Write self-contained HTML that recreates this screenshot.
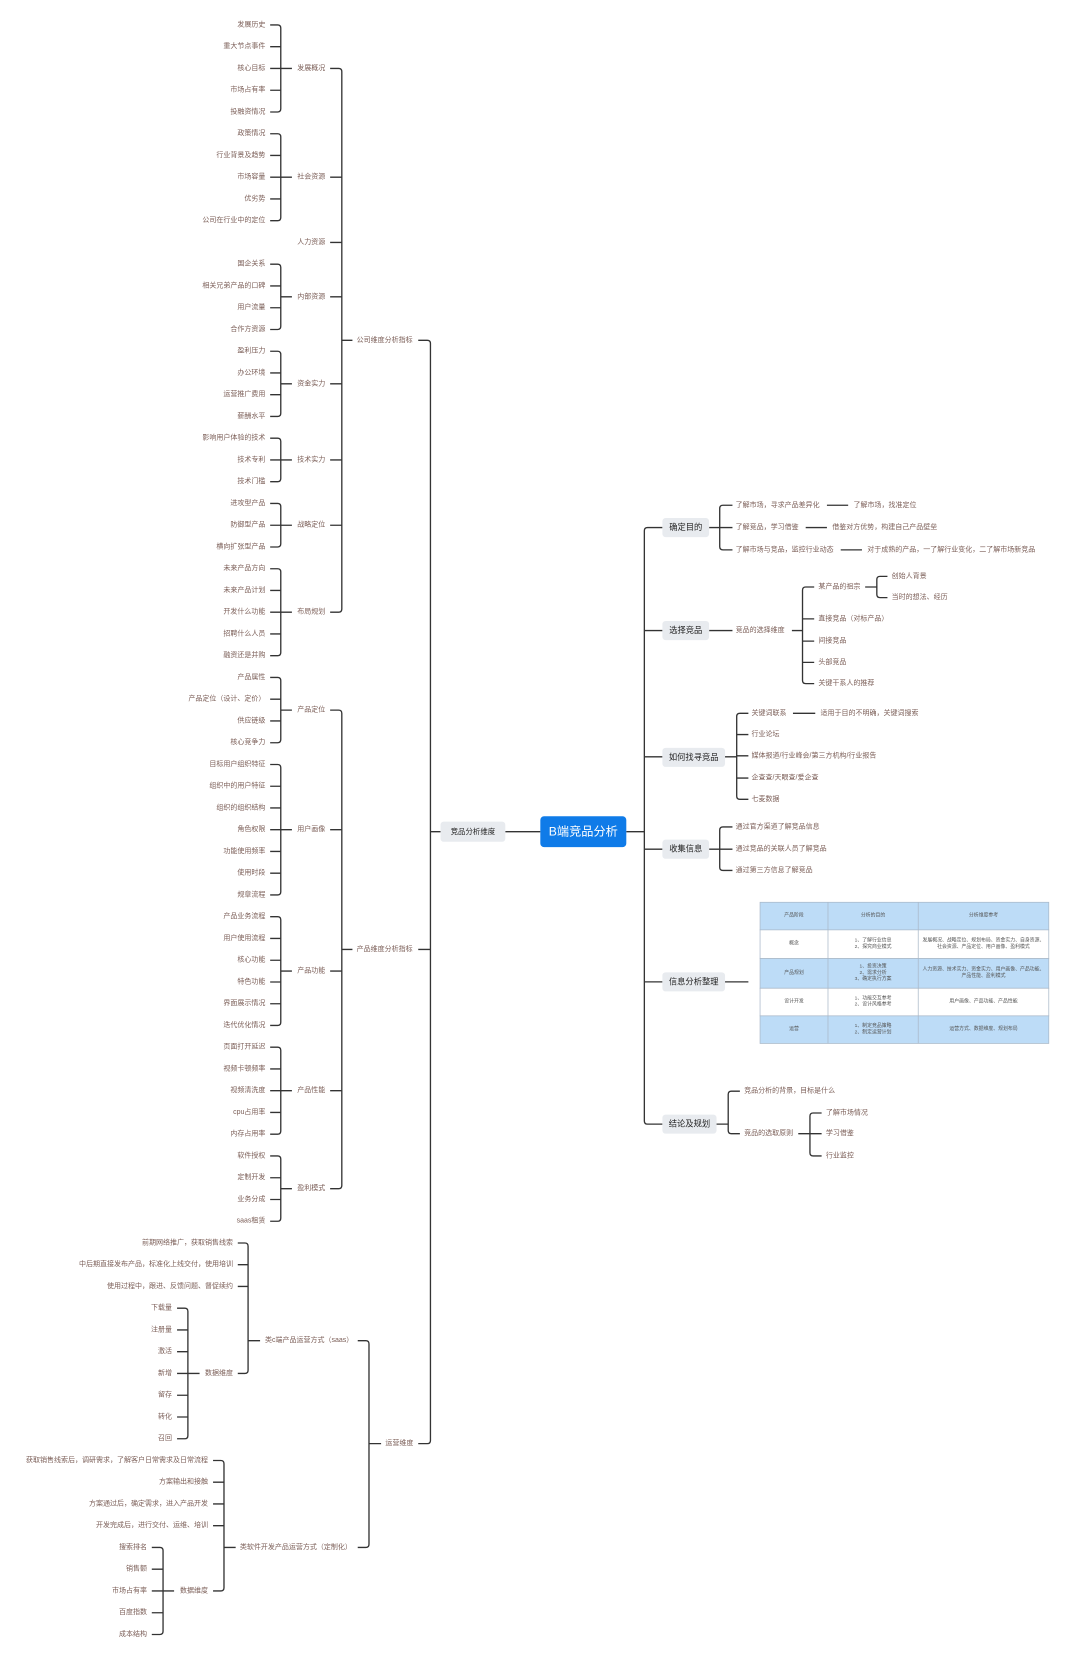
<!DOCTYPE html>
<html><head><meta charset="utf-8"><style>
html,body{margin:0;padding:0;background:#fff;}
svg{display:block;}
text{font-family:"Liberation Sans","Noto Sans CJK SC",sans-serif;dominant-baseline:central;}
.l{font-size:6.6px;fill:#7b5e57;text-anchor:end;}
.r{font-size:6.6px;fill:#7b5e57;text-anchor:start;}
.b{font-size:7.8px;fill:#222;text-anchor:middle;}
.t{font-size:4.6px;fill:#555;text-anchor:middle;}
.ln{fill:none;stroke:#333;stroke-width:1.25;}
.box{fill:#e8ebef;}
</style></head><body>
<svg width="1080" height="1664" viewBox="0 0 1017.4 1567.6" preserveAspectRatio="none" xmlns="http://www.w3.org/2000/svg">
<g class="ln">
<!-- company leaf brackets -->
<path d="M254.5 23.5H261.5Q264.5 23.5 264.5 26.5V102.5Q264.5 105.5 261.5 105.5H254.5M254.5 44H264.5M254.5 85H264.5M254.5 64.5H275"/>
<path d="M254.5 126H261.5Q264.5 126 264.5 129V204.9Q264.5 207.9 261.5 207.9H254.5M254.5 146.4H264.5M254.5 187.4H264.5M254.5 166.9H275"/>
<path d="M254.5 248.9H261.5Q264.5 248.9 264.5 251.9V307.4Q264.5 310.4 261.5 310.4H254.5M254.5 269.4H264.5M254.5 289.9H264.5M264.5 279.6H275"/>
<path d="M254.5 330.9H261.5Q264.5 330.9 264.5 333.9V389.3Q264.5 392.3 261.5 392.3H254.5M254.5 351.3H264.5M254.5 371.8H264.5M264.5 361.6H275"/>
<path d="M254.5 412.8H261.5Q264.5 412.8 264.5 415.8V450.8Q264.5 453.8 261.5 453.8H254.5M254.5 433.3H275"/>
<path d="M254.5 474.3H261.5Q264.5 474.3 264.5 477.3V512.3Q264.5 515.3 261.5 515.3H254.5M254.5 494.8H275"/>
<path d="M254.5 535.8H261.5Q264.5 535.8 264.5 538.8V614.7Q264.5 617.7 261.5 617.7H254.5M254.5 556.2H264.5M254.5 597.2H264.5M254.5 576.7H275"/>
<!-- product leaf brackets -->
<path d="M254.5 638.2H261.5Q264.5 638.2 264.5 641.2V696.7Q264.5 699.7 261.5 699.7H254.5M254.5 658.7H264.5M254.5 679.2H264.5M264.5 669H275"/>
<path d="M254.5 720.2H261.5Q264.5 720.2 264.5 723.2V840.1Q264.5 843.1 261.5 843.1H254.5M254.5 740.7H264.5M254.5 761.1H264.5M254.5 802.1H264.5M254.5 822.6H264.5M254.5 781.6H275"/>
<path d="M254.5 863.6H261.5Q264.5 863.6 264.5 866.6V963Q264.5 966 261.5 966H254.5M254.5 884.1H264.5M254.5 904.6H264.5M254.5 925.1H264.5M254.5 945.6H264.5M264.5 914.8H275"/>
<path d="M254.5 986.5H261.5Q264.5 986.5 264.5 989.5V1065.5Q264.5 1068.5 261.5 1068.5H254.5M254.5 1007H264.5M254.5 1048H264.5M254.5 1027.5H275"/>
<path d="M254.5 1089H261.5Q264.5 1089 264.5 1092V1147.5Q264.5 1150.5 261.5 1150.5H254.5M254.5 1109.5H264.5M254.5 1130H264.5M264.5 1119.8H275"/>
<!-- parent brackets -->
<path d="M311 64.5H319Q322 64.5 322 67.5V573.7Q322 576.7 319 576.7H311M311 166.9H322M311 228.4H322M311 279.6H322M311 361.6H322M311 433.3H322M311 494.8H322M322 320.6H332"/>
<path d="M311 669H319Q322 669 322 672V1116.8Q322 1119.8 319 1119.8H311M311 781.6H322M311 914.8H322M311 1027.5H322M322 894.4H332"/>
<!-- ops -->
<path d="M166.8 1232.4H174Q177 1232.4 177 1235.4V1352.4Q177 1355.4 174 1355.4H166.8M166.8 1252.9H177M166.8 1273.4H177M166.8 1314.4H177M166.8 1334.9H177M166.8 1293.9H188"/>
<path d="M224 1171H230.7Q233.7 1171 233.7 1174V1290.9Q233.7 1293.9 230.7 1293.9H224M224 1191.4H233.7M224 1211.9H233.7M233.7 1263H245"/>
<path d="M143 1457.8H150.6Q153.6 1457.8 153.6 1460.8V1536.8Q153.6 1539.8 150.6 1539.8H143M143 1478.3H153.6M143 1519.3H153.6M143 1498.8H164"/>
<path d="M200.7 1375.9H208Q211 1375.9 211 1378.9V1495.8Q211 1498.8 208 1498.8H200.7M200.7 1396.3H211M200.7 1416.8H211M200.7 1437.3H211M211 1457.8H222"/>
<path d="M337 1263H344.6Q347.6 1263 347.6 1266V1454.8Q347.6 1457.8 344.6 1457.8H337M347.6 1360H359"/>
<!-- main left -->
<path d="M394 320.6H402.5Q405.5 320.6 405.5 323.6V1357Q405.5 1360 402.5 1360H394M394 894.4H405.5M405.5 783.5H415M476 783.5H509"/>
<!-- main right -->
<path d="M624 497H610Q607 497 607 500V1056Q607 1059 610 1059H624M607 594H624M607 713H624M607 800H624M607 925H624M590 783.5H607"/>
<path d="M668 497H678M690 476H681Q678 476 678 479V515Q678 518 681 518H690M678 497H690M779 476H799M759 497H779M792 518H812"/>
<path d="M668 594H690M746 594H756M767 553H759Q756 553 756 556V641Q756 644 759 644H767M756 583H767M756 604H767M756 624H767M815 553H826M836 543H829Q826 543 826 546V560Q826 563 829 563H836"/>
<path d="M683 713H694M705 672H697Q694 672 694 675V750Q694 753 697 753H705M694 692H705M694 712H705M694 733H705M747 672H768"/>
<path d="M668 800H678M690 779H681Q678 779 678 782V817Q678 820 681 820H690M678 800H690"/>
<path d="M683 925H705"/>
<path d="M675 1059H686M697 1028H689Q686 1028 686 1031V1065Q686 1068 689 1068H697M752 1068H763M774 1048.5H766Q763 1048.5 763 1051.5V1086Q763 1089 766 1089H774M763 1068H774"/>
</g>

<!-- company leaves -->
<text class="l" x="250" y="23.5">发展历史</text>
<text class="l" x="250" y="44">重大节点事件</text>
<text class="l" x="250" y="64.5">核心目标</text>
<text class="l" x="250" y="85">市场占有率</text>
<text class="l" x="250" y="105.5">投融资情况</text>
<text class="l" x="250" y="126">政策情况</text>
<text class="l" x="250" y="146.4">行业背景及趋势</text>
<text class="l" x="250" y="166.9">市场容量</text>
<text class="l" x="250" y="187.4">优劣势</text>
<text class="l" x="250" y="207.9">公司在行业中的定位</text>
<text class="l" x="250" y="248.9">国企关系</text>
<text class="l" x="250" y="269.4">相关兄弟产品的口碑</text>
<text class="l" x="250" y="289.9">用户流量</text>
<text class="l" x="250" y="310.4">合作方资源</text>
<text class="l" x="250" y="330.9">盈利压力</text>
<text class="l" x="250" y="351.3">办公环境</text>
<text class="l" x="250" y="371.8">运营推广费用</text>
<text class="l" x="250" y="392.3">薪酬水平</text>
<text class="l" x="250" y="412.8">影响用户体验的技术</text>
<text class="l" x="250" y="433.3">技术专利</text>
<text class="l" x="250" y="453.8">技术门槛</text>
<text class="l" x="250" y="474.3">进攻型产品</text>
<text class="l" x="250" y="494.8">防御型产品</text>
<text class="l" x="250" y="515.3">横向扩张型产品</text>
<text class="l" x="250" y="535.8">未来产品方向</text>
<text class="l" x="250" y="556.2">未来产品计划</text>
<text class="l" x="250" y="576.7">开发什么功能</text>
<text class="l" x="250" y="597.2">招聘什么人员</text>
<text class="l" x="250" y="617.7">融资还是并购</text>
<!-- product leaves -->
<text class="l" x="250" y="638.2">产品属性</text>
<text class="l" x="250" y="658.7">产品定位（设计、定价）</text>
<text class="l" x="250" y="679.2">供应链级</text>
<text class="l" x="250" y="699.7">核心竞争力</text>
<text class="l" x="250" y="720.2">目标用户组织特征</text>
<text class="l" x="250" y="740.7">组织中的用户特征</text>
<text class="l" x="250" y="761.1">组织的组织结构</text>
<text class="l" x="250" y="781.6">角色权限</text>
<text class="l" x="250" y="802.1">功能使用频率</text>
<text class="l" x="250" y="822.6">使用时段</text>
<text class="l" x="250" y="843.1">规章流程</text>
<text class="l" x="250" y="863.6">产品业务流程</text>
<text class="l" x="250" y="884.1">用户使用流程</text>
<text class="l" x="250" y="904.6">核心功能</text>
<text class="l" x="250" y="925.1">特色功能</text>
<text class="l" x="250" y="945.6">界面展示情况</text>
<text class="l" x="250" y="966">迭代优化情况</text>
<text class="l" x="250" y="986.5">页面打开延迟</text>
<text class="l" x="250" y="1007">视频卡顿频率</text>
<text class="l" x="250" y="1027.5">视频清洗度</text>
<text class="l" x="250" y="1048">cpu占用率</text>
<text class="l" x="250" y="1068.5">内存占用率</text>
<text class="l" x="250" y="1089">软件授权</text>
<text class="l" x="250" y="1109.5">定制开发</text>
<text class="l" x="250" y="1130">业务分成</text>
<text class="l" x="250" y="1150.5">saas租赁</text>
<!-- level 2 labels -->
<text class="r" x="280" y="64.5">发展概况</text>
<text class="r" x="280" y="166.9">社会资源</text>
<text class="r" x="280" y="228.4">人力资源</text>
<text class="r" x="280" y="279.6">内部资源</text>
<text class="r" x="280" y="361.6">资金实力</text>
<text class="r" x="280" y="433.3">技术实力</text>
<text class="r" x="280" y="494.8">战略定位</text>
<text class="r" x="280" y="576.7">布局规划</text>
<text class="r" x="280" y="669">产品定位</text>
<text class="r" x="280" y="781.6">用户画像</text>
<text class="r" x="280" y="914.8">产品功能</text>
<text class="r" x="280" y="1027.5">产品性能</text>
<text class="r" x="280" y="1119.8">盈利模式</text>
<text class="r" x="336" y="320.6">公司维度分析指标</text>
<text class="r" x="336" y="894.4">产品维度分析指标</text>
<text class="r" x="363" y="1360">运营维度</text>
<!-- ops texts -->
<text class="l" x="219.5" y="1171">前期网络推广，获取销售线索</text>
<text class="l" x="219.5" y="1191.4">中后期直接发布产品，标准化上线交付，使用培训</text>
<text class="l" x="219.5" y="1211.9">使用过程中，跟进、反馈问题、督促续约</text>
<text class="l" x="219.5" y="1293.9">数据维度</text>
<text class="l" x="162" y="1232.4">下载量</text>
<text class="l" x="162" y="1252.9">注册量</text>
<text class="l" x="162" y="1273.4">激活</text>
<text class="l" x="162" y="1293.9">新增</text>
<text class="l" x="162" y="1314.4">留存</text>
<text class="l" x="162" y="1334.9">转化</text>
<text class="l" x="162" y="1355.4">召回</text>
<text class="r" x="249.6" y="1263">类c端产品运营方式（saas）</text>
<text class="l" x="196" y="1375.9">获取销售线索后，调研需求，了解客户日常需求及日常流程</text>
<text class="l" x="196" y="1396.3">方案输出和接触</text>
<text class="l" x="196" y="1416.8">方案通过后，确定需求，进入产品开发</text>
<text class="l" x="196" y="1437.3">开发完成后，进行交付、运维、培训</text>
<text class="l" x="196" y="1498.8">数据维度</text>
<text class="l" x="138.5" y="1457.8">搜索排名</text>
<text class="l" x="138.5" y="1478.3">销售额</text>
<text class="l" x="138.5" y="1498.8">市场占有率</text>
<text class="l" x="138.5" y="1519.3">百度指数</text>
<text class="l" x="138.5" y="1539.8">成本结构</text>
<text class="r" x="226" y="1457.8">类软件开发产品运营方式（定制化）</text>

<!-- center -->
<rect class="box" x="415" y="774" width="61" height="19" rx="3"/>
<text class="b" x="445.5" y="783.5" style="font-size:7px">竞品分析维度</text>
<rect x="509" y="769" width="81" height="29" rx="3.5" fill="#0f7be8"/>
<text x="549.5" y="783.5" style="font-size:11.5px;fill:#fff;text-anchor:middle">B端竞品分析</text>

<!-- right side -->
<rect class="box" x="624" y="488" width="44" height="18" rx="3"/><text class="b" x="646" y="497">确定目的</text>
<rect class="box" x="624" y="585" width="44" height="18" rx="3"/><text class="b" x="646" y="594">选择竞品</text>
<rect class="box" x="624" y="704.5" width="59" height="18" rx="3"/><text class="b" x="653.5" y="713.5">如何找寻竞品</text>
<rect class="box" x="624" y="791" width="44" height="18" rx="3"/><text class="b" x="646" y="800">收集信息</text>
<rect class="box" x="624" y="916" width="59" height="18" rx="3"/><text class="b" x="653.5" y="925">信息分析整理</text>
<rect class="box" x="624" y="1050" width="51" height="18" rx="3"/><text class="b" x="649.5" y="1059">结论及规划</text>

<text class="r" x="693" y="476">了解市场，寻求产品差异化</text>
<text class="r" x="693" y="497">了解竞品，学习借鉴</text>
<text class="r" x="693" y="518">了解市场与竞品，监控行业动态</text>
<text class="r" x="804" y="476">了解市场，找准定位</text>
<text class="r" x="784" y="497">借鉴对方优势，构建自己产品壁垒</text>
<text class="r" x="817" y="518">对于成熟的产品，一了解行业变化，二了解市场新竞品</text>
<text class="r" x="693" y="594">竞品的选择维度</text>
<text class="r" x="771" y="553">某产品的祖宗</text>
<text class="r" x="771" y="583">直接竞品（对标产品）</text>
<text class="r" x="771" y="604">间接竞品</text>
<text class="r" x="771" y="624">头部竞品</text>
<text class="r" x="771" y="644">关键干系人的推荐</text>
<text class="r" x="840" y="543">创始人背景</text>
<text class="r" x="840" y="563">当时的想法、经历</text>
<text class="r" x="708" y="672">关键词联系</text>
<text class="r" x="708" y="692">行业论坛</text>
<text class="r" x="708" y="712">媒体报道/行业峰会/第三方机构/行业报告</text>
<text class="r" x="708" y="733">企查查/天眼查/爱企查</text>
<text class="r" x="708" y="753">七麦数据</text>
<text class="r" x="773" y="672">适用于目的不明确，关键词搜索</text>
<text class="r" x="693" y="779">通过官方渠道了解竞品信息</text>
<text class="r" x="693" y="800">通过竞品的关联人员了解竞品</text>
<text class="r" x="693" y="820">通过第三方信息了解竞品</text>
<text class="r" x="701" y="1028">竞品分析的背景，目标是什么</text>
<text class="r" x="701" y="1068">竞品的选取原则</text>
<text class="r" x="778" y="1048.5">了解市场情况</text>
<text class="r" x="778" y="1068">学习借鉴</text>
<text class="r" x="778" y="1089">行业监控</text>

<!-- table -->
<g stroke="#a9b8c8" stroke-width="0.7">
<rect x="716" y="850" width="272" height="26" fill="#bddcf7"/>
<rect x="716" y="876" width="272" height="27" fill="#fff"/>
<rect x="716" y="903" width="272" height="28" fill="#bddcf7"/>
<rect x="716" y="931" width="272" height="26" fill="#fff"/>
<rect x="716" y="957" width="272" height="26" fill="#bddcf7"/>
<path d="M780 850V983M865 850V983"/>
</g>
<text class="t" x="748" y="863">产品阶段</text>
<text class="t" x="822.5" y="863">分析的目的</text>
<text class="t" x="926.5" y="863">分析维度参考</text>
<text class="t" x="748" y="889.5">概念</text>
<text class="t" x="822.5" y="886.5">1、了解行业信息</text>
<text class="t" x="822.5" y="892.5">2、探究商业模式</text>
<text class="t" x="926.5" y="886.5">发展概况、战略定位、规划布局、资金实力、自身资源、</text>
<text class="t" x="926.5" y="892.5">社会资源、产品定位、用户画像、盈利模式</text>
<text class="t" x="748" y="917">产品规划</text>
<text class="t" x="822.5" y="911">1、投资决策</text>
<text class="t" x="822.5" y="917">2、需求分析</text>
<text class="t" x="822.5" y="923">3、确定执行方案</text>
<text class="t" x="926.5" y="914">人力资源、技术实力、资金实力、用户画像、产品功能、</text>
<text class="t" x="926.5" y="920">产品性能、盈利模式</text>
<text class="t" x="748" y="944">设计开发</text>
<text class="t" x="822.5" y="941">1、功能交互参考</text>
<text class="t" x="822.5" y="947">2、设计风格参考</text>
<text class="t" x="926.5" y="944">用户画像、产品功能、产品性能</text>
<text class="t" x="748" y="970">运营</text>
<text class="t" x="822.5" y="967">1、制定竞品策略</text>
<text class="t" x="822.5" y="973">2、制定运营计划</text>
<text class="t" x="926.5" y="970">运营方式、数据维度、规划布局</text>
</svg>
</body></html>
